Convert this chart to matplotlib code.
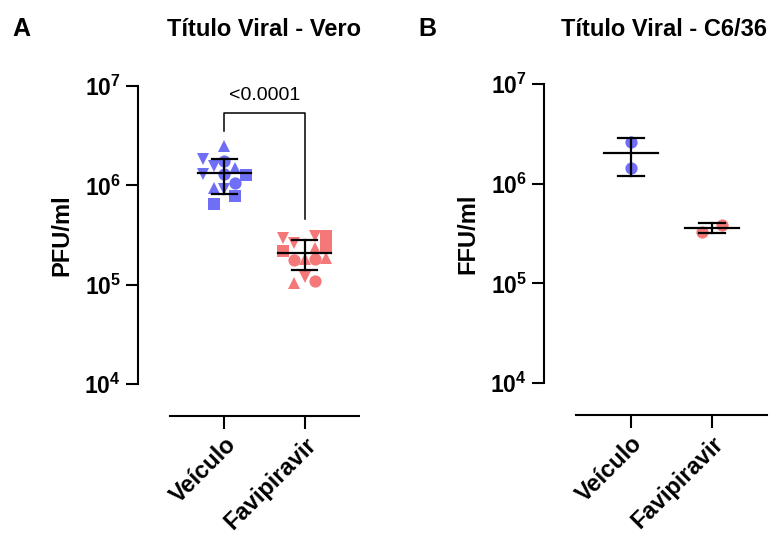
import numpy as np
import matplotlib.pyplot as plt

plt.rcParams['font.family'] = ['Liberation Sans', 'DejaVu Sans']
plt.rcParams['mathtext.fontset'] = 'custom'
plt.rcParams['mathtext.rm'] = 'Liberation Sans:bold'
plt.rcParams['mathtext.bf'] = 'Liberation Sans:bold'

groups = ['Veículo', 'Favipiravir']

# Panel A - Vero (PFU/ml), one marker shape per experiment
vero_veiculo = [2.51e6, 1.86e6, 1.74e6, 1.58e6, 1.48e6, 1.29e6, 1.29e6,
                1.26e6, 1.05e6, 9.3e5, 9.1e5, 7.8e5, 6.5e5]
vero_veiculo_mk = ['^', 'v', 'o', 'v', '^', 'v', 'o', 's', 'o', '^', 'v', 's', 's']
vero_favi = [2.95e5, 2.63e5, 2.19e5, 3.09e5, 3.09e5, 2.45e5, 2.34e5,
             1.78e5, 1.82e5, 1.82e5, 1.86e5, 1.20e5, 1.05e5, 1.10e5]
vero_favi_mk = ['v', 'v', 's', 'v', 's', 's', '^', 'o', '^', 'o', '^', 'v', '^', 'o']
p_text = '<0.0001'

# Panel B - C6/36 (FFU/ml)
c636_veiculo = [2.63e6, 1.45e6]
c636_favi = [3.31e5, 3.89e5]

# horizontal scatter spread of the points (x units)
vero_veiculo_dx = [0, -0.27, 0, -0.135, 0.135, -0.27, 0, 0.27, 0.135, -0.135, 0, 0.135, -0.135]
vero_favi_dx = [-0.27, -0.135, -0.27, 0.135, 0.27, 0.27, 0.135, -0.135, 0, 0.135, 0.27, 0, -0.135, 0.135]
c636_veiculo_dx = [0, 0]
c636_favi_dx = [-0.12, 0.12]

blue = '#6E6EF6'
red = '#F47878'

fig = plt.figure(figsize=(7.81, 5.40), dpi=100)
ax1 = fig.add_axes([170/781, 156/540, 189/781, 298/540])
ax2 = fig.add_axes([576/781, 157/540, 191/781, 299/540])


def mean_sd(ax, x, vals):
    v = np.array(vals)
    m = v.mean()
    s = v.std(ddof=1)
    ax.plot([x - 0.33, x + 0.33], [m, m], color='black', lw=1.6, zorder=4)
    ax.plot([x, x], [m - s, m + s], color='black', lw=1.6, zorder=4)
    for yy in (m - s, m + s):
        ax.plot([x - 0.16, x + 0.16], [yy, yy], color='black', lw=1.6, zorder=4)


def points(ax, x, vals, dx, mks, color):
    for v, d, mk in zip(vals, dx, mks):
        size = 8.0 if mk == 's' else 8.8
        ax.plot(x + d, v, marker=mk, ms=size, color=color, mew=0, ls='none', zorder=3)


def style(ax, ylabel):
    ax.set_yscale('log')
    ax.set_ylim(1e4, 1e7)
    ax.set_xlim(-0.68, 1.68)
    for s in ['top', 'right']:
        ax.spines[s].set_visible(False)
    ax.spines['left'].set_position(('outward', 23))
    ax.spines['bottom'].set_position(('outward', 23))
    for s in ['left', 'bottom']:
        ax.spines[s].set_linewidth(1.5)
    ax.set_yticks([1e4, 1e5, 1e6, 1e7])
    ax.set_yticklabels([r'$\mathbf{10^{%d}}$' % e for e in [4, 5, 6, 7]], fontsize=16.5)
    ax.minorticks_off()
    ax.tick_params(axis='both', width=1.5, length=9)
    ax.set_xticks([0, 1])
    ax.set_xticklabels(groups, rotation=45, ha='right', rotation_mode='anchor',
                       fontsize=17, fontweight='bold')
    ax.set_ylabel(ylabel, fontsize=17, fontweight='bold', labelpad=8)
    ax.patch.set_visible(False)


points(ax1, 0, vero_veiculo, vero_veiculo_dx, vero_veiculo_mk, blue)
points(ax1, 1, vero_favi, vero_favi_dx, vero_favi_mk, red)
mean_sd(ax1, 0, vero_veiculo)
mean_sd(ax1, 1, vero_favi)
style(ax1, 'PFU/ml')

# significance bracket
ax1.plot([0, 0, 1, 1], [10**6.55, 10**6.73, 10**6.73, 10**5.66], color='black', lw=1.1)
ax1.text(0.5, 10**6.9, p_text, ha='center', va='center', fontsize=14)

points(ax2, 0, c636_veiculo, c636_veiculo_dx, ['o'] * 2, blue)
points(ax2, 1, c636_favi, c636_favi_dx, ['o'] * 2, red)
mean_sd(ax2, 0, c636_veiculo)
mean_sd(ax2, 1, c636_favi)
style(ax2, 'FFU/ml')

fig.text(264/781, 1 - 29/540, 'Título Viral - Vero', ha='center', va='center',
         fontsize=17, fontweight='bold')
fig.text(664/781, 1 - 29/540, 'Título Viral - C6/36', ha='center', va='center',
         fontsize=17, fontweight='bold')
fig.text(12/781, 1 - 29/540, 'A', ha='left', va='center', fontsize=18, fontweight='bold')
fig.text(418/781, 1 - 29/540, 'B', ha='left', va='center', fontsize=18, fontweight='bold')

fig.savefig('out.png', dpi=100)
